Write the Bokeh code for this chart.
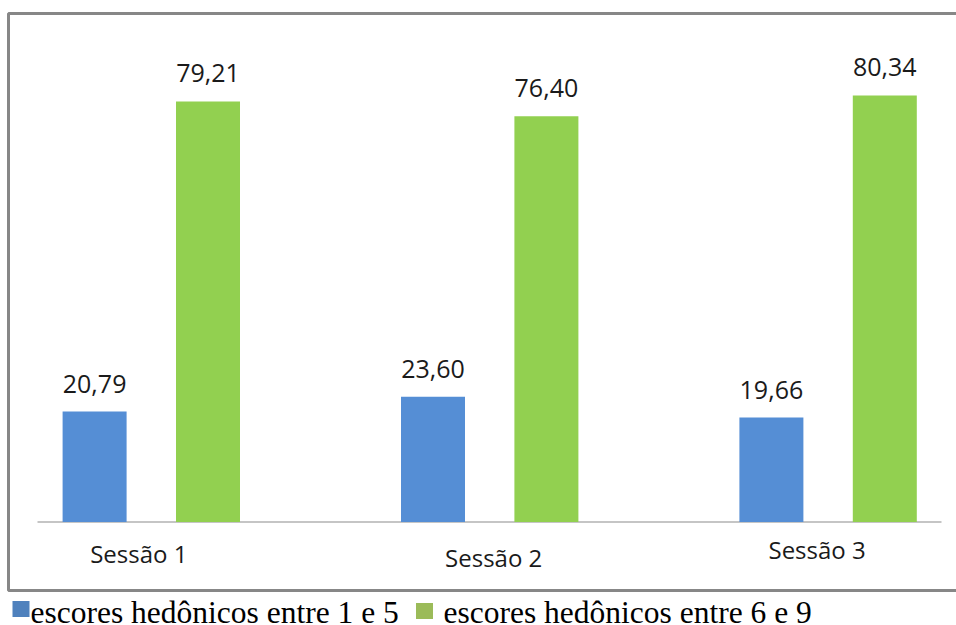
from bokeh.plotting import figure
from bokeh.models import Range1d, ColumnDataSource
from bokeh.core.properties import value
from bokeh.embed import file_html
from bokeh.resources import INLINE

# --- data -------------------------------------------------------------
sessions = ["Sessão 1", "Sessão 2", "Sessão 3"]
scores_1_5 = [20.79, 23.60, 19.66]
scores_6_9 = [79.21, 76.40, 80.34]
series_names = ["escores hedônicos entre 1 e 5", "escores hedônicos entre 6 e 9"]

# --- layout constants (pixels) ----------------------------------------
W, H = 956, 625
CAT_PX = 338.4          # distance between session groups
FIRST_CAT_PX = 150.8    # centre of the first group
BASE_PX = 521.5         # pixel row of value 0
UNIT_PX = 5.31          # pixels per percentage point
BAR_W_PX = 64
BAR_OFF_PX = 56.7       # bar centre offset from group centre
TEXT_LIFT = 10          # svg text sits a little low on its baseline; lift it

BLUE, GREEN = "#558ED5", "#92D050"
BLUE_KEY, GREEN_KEY = "#4F81BD", "#9BBB59"
FRAME = "#878787"
AXIS = "#8C8C8C"

def xs(px):
    """pixel column -> x data coordinate"""
    return (px - FIRST_CAT_PX) / CAT_PX

def ys(py):
    """pixel row (from top) -> y data coordinate"""
    return (BASE_PX - py) / UNIT_PX

p = figure(width=W, height=H, output_backend="svg", toolbar_location=None,
           x_range=Range1d(xs(0), xs(W)), y_range=Range1d(ys(H), ys(0)),
           min_border=0, outline_line_color=None)
p.axis.visible = False
p.grid.visible = False
p.background_fill_color = "white"
p.border_fill_color = "white"

idx = list(range(len(sessions)))
off = BAR_OFF_PX / CAT_PX
bw = BAR_W_PX / CAT_PX

# outer frame (open on the right side)
p.multi_line(xs=[[xs(960), xs(8), xs(8), xs(960)]],
             ys=[[ys(13), ys(13), ys(590), ys(590)]],
             line_color=FRAME, line_width=3)

# category axis line
p.segment(x0=[xs(37)], y0=[0], x1=[xs(941)], y1=[0], line_color=AXIS, line_width=1.2)

gap = (18 + TEXT_LIFT) / UNIT_PX
src = ColumnDataSource(dict(
    x1=[i - off for i in idx], x2=[i + off for i in idx],
    v1=scores_1_5, v2=scores_6_9,
    t1=[f"{v:.2f}".replace(".", ",") for v in scores_1_5],
    t2=[f"{v:.2f}".replace(".", ",") for v in scores_6_9],
    ly1=[v + gap for v in scores_1_5],
    ly2=[v + gap for v in scores_6_9],
))

p.vbar(x="x1", top="v1", bottom=0, width=bw, fill_color=BLUE, line_color=None, source=src)
p.vbar(x="x2", top="v2", bottom=0, width=bw, fill_color=GREEN, line_color=None, source=src)

for xc, yc, tc in (("x1", "ly1", "t1"), ("x2", "ly2", "t2")):
    p.text(x=xc, y=yc, text=tc, source=src, text_align="center",
           text_baseline="alphabetic", text_font=value("Open Sans"),
           text_font_size="25px", text_color="#1a1a1a")

# session labels under the axis
label_dx = [-12.5, 4.0, -11.0]
label_base = [563, 567, 559]
p.text(x=[i + dx / CAT_PX for i, dx in zip(idx, label_dx)],
       y=[ys(b - TEXT_LIFT) for b in label_base], text=sessions,
       text_align="center", text_baseline="alphabetic",
       text_font=value("Open Sans"), text_font_size="24px", text_color="#1a1a1a")

# legend below the frame
p.rect(x=[xs(20.5), xs(424)], y=[ys(608.5), ys(610.5)], width=17, height=16,
       width_units="screen", height_units="screen",
       fill_color=[BLUE_KEY, GREEN_KEY], line_color=None)
p.text(x=[xs(30), xs(443)], y=[ys(622 - TEXT_LIFT)] * 2, text=series_names,
       text_align="left", text_baseline="alphabetic",
       text_font=value("Liberation Serif"), text_font_size="31.5px", text_color="black")

open("out.html", "w").write(file_html(p, INLINE))
